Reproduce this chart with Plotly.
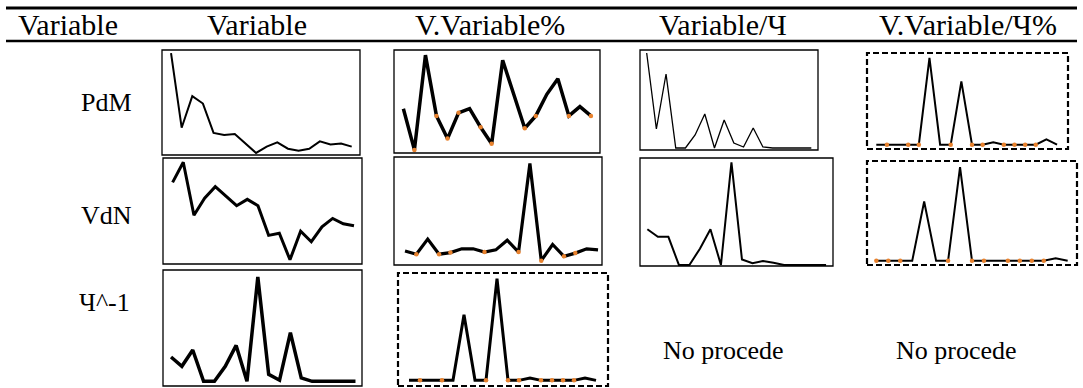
import plotly.graph_objects as go

W, H = 1083, 388

# ---------------- data ----------------
col_headers = ["Variable", "Variable", "V.Variable%", "Variable/Ч", "V.Variable/Ч%"]
row_labels = ["PdM", "VdN", "Ч^-1"]
no_data_text = "No procede"

pdm_var = [97, 26, 56, 49, 21, 19, 20, 11, 2, 8, 12, 6, 4, 6, 13, 10, 11, 8]
pdm_vvar = [43, 3, 95, 36, 14, 39, 43, 25, 9, 90, 57, 24, 36, 57, 72, 36, 45, 36]
pdm_vvar_marks = [1, 3, 4, 5, 7, 8, 11, 12, 15, 17]
pdm_var_ch = [97, 21, 76, 2, 2, 15, 36, 2, 30, 7, 3, 22, 3, 2, 2, 2, 2, 2]
pdm_vvar_ch = [4.5, 4.5, 4.5, 4.5, 4.5, 95, 4.5, 4.5, 70.5, 4.5, 4.5, 7, 4.5, 4.5, 4.5, 4.5, 10, 4.5]
pdm_vvar_ch_marks = [1, 3, 4, 7, 9, 10, 12, 13, 14, 15]

vdn_var = [77, 96, 46, 62, 73, 64, 55, 61, 55, 27, 29, 4, 31, 21, 35, 43, 38, 36]
vdn_vvar = [13, 10, 24, 10, 11.5, 15, 15, 12, 14, 23, 12, 94, 4, 19, 8, 11, 15, 14]
vdn_vvar_marks = [1, 3, 4, 7, 10, 12, 14, 15]
vdn_var_ch = [34, 27, 27, 1, 1, 16, 34, 1, 96, 6, 2.5, 4.6, 3, 1, 1, 1, 1, 1]
vdn_vvar_ch = [4, 4, 4, 4, 61, 4, 4, 94, 4, 4, 4, 4, 4, 4, 4, 6.5, 4]
vdn_vvar_ch_marks = [0, 1, 2, 6, 8, 9, 11, 12, 13, 14]

inv_var = [25, 17, 31, 4, 4, 17, 35, 4, 94, 10, 5, 46, 7, 4, 4, 4, 4, 4]
inv_vvar = [5, 5, 5, 5, 5, 63, 5, 5, 95, 5, 5, 7, 5, 5, 5, 5, 7, 5]
inv_vvar_marks = [1, 3, 7, 9, 10, 12, 13, 14, 15]

# ---------------- layout of the cells (pixels) ----------------
# (values, markers, box x0, y0, x1, y1, pad left, pad right, line width, dashed box)
cells = [
    (pdm_var, [], 162, 50, 360, 155, 0.85, 0.78, 2.0, False),
    (pdm_vvar, pdm_vvar_marks, 394, 50, 600, 153, 0.85, 0.82, 3.5, False),
    (pdm_var_ch, [], 640, 50, 818, 150, 0.69, 0.69, 1.3, False),
    (pdm_vvar_ch, pdm_vvar_ch_marks, 867, 53, 1068, 149, 0.875, 1.03, 2.0, True),
    (vdn_var, [], 163, 158, 362, 264, 0.9, 0.75, 3.0, False),
    (vdn_vvar, vdn_vvar_marks, 394, 157, 602, 265, 0.97, 0.35, 3.2, False),
    (vdn_var_ch, [], 640, 158, 833, 266, 0.7, 0.66, 2.0, False),
    (vdn_vvar_ch, vdn_vvar_ch_marks, 867, 161, 1077, 265, 0.78, 0.78, 2.0, True),
    (inv_var, [], 163, 270, 362, 386, 0.74, 0.6, 3.5, False),
    (inv_vvar, inv_vvar_marks, 398, 273, 608, 386, 1.0, 1.09, 3.0, True),
]

ORANGE = "#e8822e"
fig = go.Figure()
shapes = []
layout_axes = {}

for i, (vals, marks, x0, y0, x1, y1, pl, pr, lw, dashed) in enumerate(cells):
    k = "" if i == 0 else str(i + 1)
    xs = list(range(len(vals)))
    fig.add_trace(go.Scatter(
        x=xs, y=vals, mode="lines", line=dict(color="black", width=lw),
        xaxis="x" + k, yaxis="y" + k, showlegend=False, hoverinfo="skip"))
    if marks:
        fig.add_trace(go.Scatter(
            x=[xs[m] for m in marks], y=[vals[m] for m in marks], mode="markers",
            marker=dict(color=ORANGE, size=4.5, line=dict(width=0)),
            xaxis="x" + k, yaxis="y" + k, showlegend=False, hoverinfo="skip"))
    layout_axes["xaxis" + k] = dict(
        domain=[x0 / W, x1 / W], range=[-pl, len(vals) - 1 + pr],
        visible=False, anchor="y" + k, fixedrange=True)
    layout_axes["yaxis" + k] = dict(
        domain=[1 - y1 / H, 1 - y0 / H], range=[0, 100],
        visible=False, anchor="x" + k, fixedrange=True)
    shapes.append(dict(
        type="rect", xref="x" + k + " domain", yref="y" + k + " domain",
        x0=0, x1=1, y0=0, y1=1,
        line=dict(color="black", width=2.2 if dashed else 1.3,
                  dash="6px,3px" if dashed else "solid")))

# table rules
shapes.append(dict(type="line", xref="paper", yref="paper",
                   x0=6 / W, x1=1077 / W, y0=1 - 8 / H, y1=1 - 8 / H,
                   line=dict(color="black", width=3)))
shapes.append(dict(type="line", xref="paper", yref="paper",
                   x0=6 / W, x1=1077 / W, y0=1 - 41 / H, y1=1 - 41 / H,
                   line=dict(color="black", width=2.5)))

FAMILY = "Liberation Serif, Times New Roman, serif"
HFONT = dict(family=FAMILY, size=30, color="black")
FONT = dict(family=FAMILY, size=26, color="black")
annotations = []
header_x = [68, 257, 490, 723, 968]
for txt, cx in zip(col_headers, header_x):
    annotations.append(dict(text=txt, x=cx / W, y=1 - 25 / H, xref="paper", yref="paper",
                            showarrow=False, font=HFONT, xanchor="center", yanchor="middle"))
row_pos = [(106, 103), (106, 215), (104, 302)]
for txt, (cx, cy) in zip(row_labels, row_pos):
    annotations.append(dict(text=txt, x=cx / W, y=1 - cy / H, xref="paper", yref="paper",
                            showarrow=False, font=FONT, xanchor="center", yanchor="middle"))
for cx in (723, 956):
    annotations.append(dict(text=no_data_text, x=cx / W, y=1 - 350 / H, xref="paper",
                            yref="paper", showarrow=False, font=FONT,
                            xanchor="center", yanchor="middle"))

fig.update_layout(
    width=W, height=H, margin=dict(l=0, r=0, t=0, b=0),
    paper_bgcolor="white", plot_bgcolor="rgba(0,0,0,0)",
    shapes=shapes, annotations=annotations, showlegend=False,
    **layout_axes)

fig.write_html("out.html", config={"displayModeBar": False})
